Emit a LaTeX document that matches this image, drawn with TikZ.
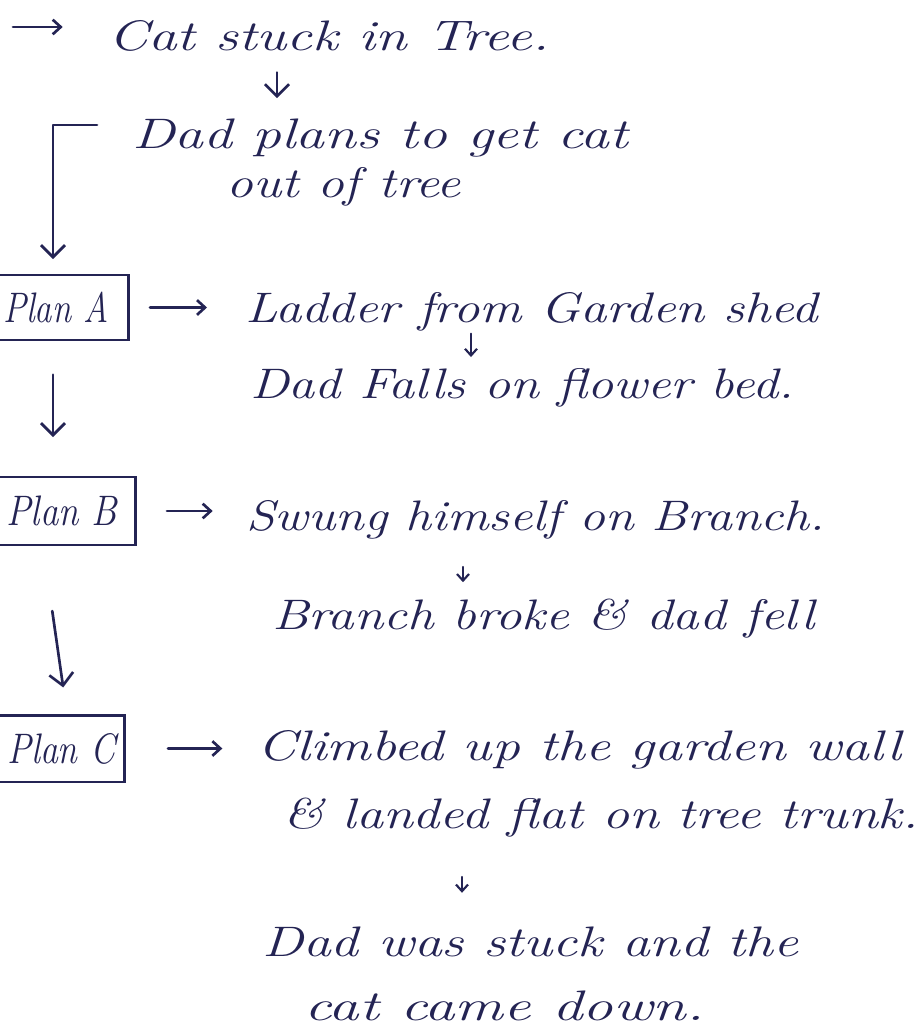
\documentclass[tikz,border=0pt]{standalone}
\usepackage{graphicx}
\usetikzlibrary{arrows.meta}
\definecolor{ink}{RGB}{36,36,84}
% set a handwritten line to a given width (in pt), keeping its height
\newcommand\hw[2]{\resizebox{#1pt}{\height}{#2}}

\begin{document}
\begin{tikzpicture}[x=0.75pt,y=-0.75pt,
  pen/.style={draw=ink,line width=2pt,line cap=round,line join=round},
  arr/.style={pen,-{Straight Barb[length=9pt,width=18pt,line width=2pt]}},
  sarr/.style={pen,-{Straight Barb[length=6pt,width=11pt,line width=2pt]}},
  tarr/.style={draw=ink,line width=1.6pt,line cap=round,-{Straight Barb[length=5pt,width=9pt,line width=1.6pt]}},
  txt/.style={anchor=base west,inner sep=0pt,text=ink,font=\fontsize{32}{38}\selectfont\itshape},
  planbox/.style={draw=ink,line width=2pt,anchor=east,inner ysep=0pt,text=ink,font=\fontsize{32}{38}\selectfont\itshape},
]
\useasboundingbox[fill=white] (0,0) rectangle (921,1029);

% column positions of the vertical connectors
\coordinate (start) at (13,27);
\coordinate (brk) at (97,125);
\coordinate (ca) at (53,0);
\coordinate (cb) at (43,0);
\coordinate (cc) at (67,0);
\coordinate (c1) at (277,0);
\coordinate (c2) at (471,0);
\coordinate (c3) at (463,0);
\coordinate (c4) at (462,0);

% story text
\node[txt] (cat)     at (108,50)   {\hw{330.75}{Cat stuck in Tree.}};
\node[txt] (dad)     at (132,148)  {\hw{372}{Dad plans to get cat}};
\node[txt] (out)     at (226,197)  {\hw{176}{out of tree}};
\node[txt] (ladder)  at (245,322)  {\hw{429.75}{Ladder from Garden shed}};
\node[txt] (falls)   at (250,398)  {\hw{408}{Dad Falls on flower bed.}};
\node[txt] (swung)   at (246,530)  {\hw{434.25}{Swung himself on Branch.}};
\node[txt] (branch)  at (272,629)  {\hw{406.5}{Branch broke \& dad fell}};
\node[txt] (climbed) at (257,760)  {\hw{483}{Climbed up the garden wall}};
\node[txt] (landed)  at (283,828)  {\hw{476.25}{\& landed flat on tree trunk.}};
\node[txt] (dadwas)  at (262,956)  {\hw{402}{Dad was stuck and the}};
\node[txt] (catdown) at (304,1020) {\hw{300}{cat came down.}};

% the three plans
\node[planbox,inner xsep=15pt,minimum height=48.75pt] (pa) at (130,307.5) {\hw{79}{Plan A}};
\node[planbox,inner xsep=14pt,minimum height=51pt]    (pb) at (137,511)   {\hw{83}{Plan B}};
\node[planbox,inner xsep=7pt,minimum height=50pt]     (pc) at (126,748.5) {\hw{81}{Plan C}};

% connectors
\draw[sarr,shorten >=34pt] (start) -- (start -| cat.west);
\draw[arr,shorten <=16pt,shorten >=15pt] (cat.south -| c1) -- (dad.north -| c1);
\draw[arr,shorten >=11pt] (brk) -| (pa.north -| ca);
\draw[arr,shorten <=25pt,shorten >=29pt] (pa.south -| ca) -- (pb.north -| ca);
\draw[arr,shorten <=49pt,shorten >=20pt] (pb.south -| cb) -- (pc.north -| cc);

\draw[sarr,shorten <=15pt,shorten >=28.5pt] (pa.east) -- (pa.east -| ladder.west);
\draw[sarr,shorten <=22.5pt,shorten >=25pt] (pb.east) -- (pb.east -| swung.west);
\draw[sarr,shorten <=31.5pt,shorten >=26pt] (pc.east) -- (pc.east -| climbed.west);

\draw[tarr,shorten <=2pt,shorten >=8pt] (ladder.south -| c2) -- (falls.north -| c2);
\draw[tarr,shorten <=21pt,shorten >=12pt] (swung.south -| c3) -- (branch.north -| c3);
\draw[tarr,shorten <=30pt,shorten >=25pt] (landed.south -| c4) -- (dadwas.north -| c4);
\end{tikzpicture}
\end{document}
